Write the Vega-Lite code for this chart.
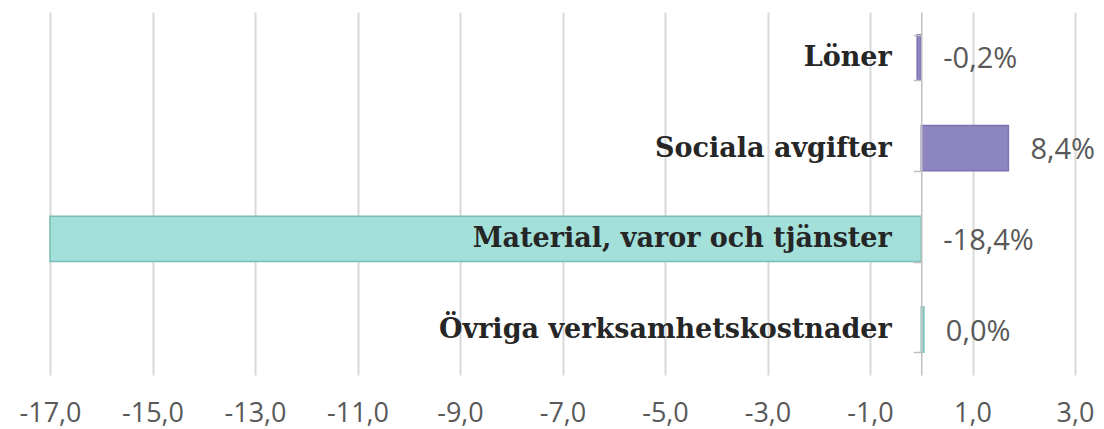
{
  "$schema": "https://vega.github.io/schema/vega-lite/v6.json",
  "width": 1025,
  "height": 363,
  "autosize": {"type": "none"},
  "padding": {"left": 50, "top": 12, "right": 29, "bottom": 54},
  "background": "white",
  "config": {"view": {"stroke": null}},
  "data": {
    "values": [
      {"category": "Löner", "value": -0.08, "label": "-0,2%"},
      {"category": "Sociala avgifter", "value": 1.7, "label": "8,4%"},
      {"category": "Material, varor och tjänster", "value": -17.0, "label": "-18,4%"},
      {"category": "Övriga verksamhetskostnader", "value": 0.05, "label": "0,0%"}
    ]
  },
  "encoding": {
    "y": {
      "field": "category",
      "type": "nominal",
      "sort": null,
      "scale": {"paddingInner": 0.5, "paddingOuter": 0.25},
      "axis": {
        "title": null,
        "orient": "left",
        "offset": -871.25,
        "zindex": 1,
        "domainColor": "#bfbfbf",
        "domainWidth": 1.5,
        "tickColor": "#bfbfbf",
        "tickWidth": 1.5,
        "tickSize": 8,
        "tickBand": "extent",
        "labelFont": "DejaVu Serif",
        "labelFontWeight": "bold",
        "labelFontSize": 27,
        "labelColor": "#262626",
        "labelPadding": 22,
        "labelLimit": 1000,
        "grid": false
      }
    }
  },
  "layer": [
    {
      "mark": {"type": "bar", "strokeWidth": 1.5},
      "encoding": {
        "x": {
          "field": "value",
          "type": "quantitative",
          "scale": {"domain": [-17, 3], "nice": false, "zero": false},
          "axis": {
            "title": null,
            "values": [-17, -15, -13, -11, -9, -7, -5, -3, -1, 1, 3],
            "labelExpr": "(datum.value < 0 ? '-' : '') + replace(format(abs(datum.value), '.1f'), '.', ',')",
            "labelFlush": false,
            "labelOverlap": false,
            "domain": false,
            "ticks": false,
            "grid": true,
            "gridColor": "#d9d9d9",
            "gridWidth": 2,
            "labelFont": "Open Sans",
            "labelFontSize": 27,
            "labelColor": "#595959",
            "labelPadding": 25
          }
        },
        "fill": {
          "field": "category",
          "type": "nominal",
          "legend": null,
          "scale": {
            "domain": ["Löner", "Sociala avgifter", "Material, varor och tjänster", "Övriga verksamhetskostnader"],
            "range": ["#8c85bf", "#8c85bf", "#a3e0da", "#a3e0da"]
          }
        },
        "stroke": {
          "field": "category",
          "type": "nominal",
          "legend": null,
          "scale": {
            "domain": ["Löner", "Sociala avgifter", "Material, varor och tjänster", "Övriga verksamhetskostnader"],
            "range": ["#7b74b0", "#7b74b0", "#7bbdb6", "#7bbdb6"]
          }
        }
      }
    },
    {
      "transform": [{"calculate": "max(datum.value, 0)", "as": "labelX"}],
      "mark": {
        "type": "text",
        "align": "left",
        "baseline": "middle",
        "dx": 22,
        "dy": 2,
        "font": "Open Sans",
        "fontSize": 29,
        "color": "#595959"
      },
      "encoding": {
        "x": {"field": "labelX", "type": "quantitative"},
        "text": {"field": "label"}
      }
    }
  ]
}
